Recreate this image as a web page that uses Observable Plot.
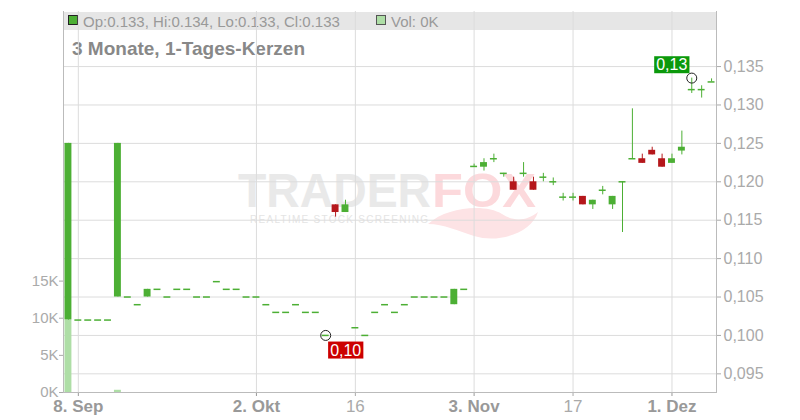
<!DOCTYPE html>
<html><head><meta charset="utf-8">
<script src="https://cdn.jsdelivr.net/npm/d3@7"></script>
<script src="https://cdn.jsdelivr.net/npm/@observablehq/plot@0.6"></script>
<style>
body{margin:0;background:#fff;font-family:"Liberation Sans",Arial,sans-serif;}
#wrap{position:relative;width:800px;height:420px;}
#bg,#chart{position:absolute;left:0;top:0;}
</style></head><body>
<div id="wrap">
<svg id="bg" width="800" height="420" font-family="Liberation Sans, Arial, sans-serif">
  <rect x="63" y="12" width="653" height="18" fill="#e6e6e6"></rect>
  <rect x="68.5" y="15.5" width="9" height="9" fill="#4caf34" stroke="#222"></rect>
  <text id="ohlc" x="83" y="26.5" font-size="15" fill="#999"></text>
  <rect x="376.5" y="15.5" width="9" height="9" fill="#aedea6" stroke="#555"></rect>
  <text id="vol" x="391" y="26.5" font-size="15" fill="#999"></text>
  <text id="subtitle" x="72" y="55" font-size="19" font-weight="bold" fill="#888"></text>
  <path d="M428,224 C448,206 486,204 502,214 C512,221 526,222 538,212 C532,232 500,244 474,236 C458,231 444,224 428,224 Z" fill="#fde3e5"></path>
  <text id="wm1" x="238" y="207" font-size="48" font-weight="bold" fill="#e9e9e9" textLength="193" lengthAdjust="spacingAndGlyphs"></text>
  <text id="wm2" x="432" y="207" font-size="48" font-weight="bold" fill="#fcd9dc" textLength="104" lengthAdjust="spacingAndGlyphs"></text>
  <text id="wm3" x="250" y="223" font-size="10" fill="#e4e4e4" textLength="178" lengthAdjust="spacing"></text>
</svg>
<div id="chart"></div>
</div>
<script>
// ---- data ----
const headerText = "Op:0.133, Hi:0.134, Lo:0.133, Cl:0.133";
const volText = "Vol: 0K";
const subtitleText = "3 Monate, 1-Tages-Kerzen";
const watermark = ["TRADER", "FOX", "REALTIME STOCK SCREENING"];

const opens  = [.102,.102,.102,.102,.102,.105,.105,.104,.105,.106,.105,.106,.106,.105,.105,.107,.106,.106,.105,.105,.104,.103,.103,.104,.103,.103,.100,.117,.116,.101,.100,.103,.104,.103,.104,.105,.105,.105,.105,.104,.106,.1220,.1219,.1230,.1211,.1200,.1211,.1200,.1206,.1200,.1180,.1180,.1181,.1170,.1189,.1170,.1200,.1230,.1230,.1241,.1230,.1224,.1240,.1320,.1320,.1330];
const highs  = [.125,.102,.102,.102,.102,.125,.105,.104,.106,.106,.105,.106,.106,.105,.105,.107,.106,.106,.105,.105,.104,.103,.103,.104,.103,.103,.100,.117,.1176,.101,.100,.103,.104,.103,.104,.105,.105,.105,.105,.106,.106,.1223,.1230,.1236,.1211,.1206,.1225,.1206,.1211,.1205,.1185,.1185,.1181,.1176,.1194,.1181,.1200,.1295,.1236,.1245,.1236,.1236,.1266,.1335,.1325,.1334];
const lows   = [.102,.102,.102,.102,.102,.105,.105,.104,.105,.106,.105,.106,.106,.105,.105,.107,.106,.106,.105,.105,.104,.103,.103,.104,.103,.103,.100,.1154,.116,.101,.100,.103,.104,.103,.104,.105,.105,.105,.105,.104,.106,.1220,.1214,.1225,.1206,.1189,.1206,.1189,.1200,.1195,.1175,.1175,.1170,.1164,.1183,.1164,.1134,.1230,.1224,.1235,.1219,.1224,.1235,.1315,.1309,.1330];
const closes = [.125,.102,.102,.102,.102,.125,.105,.104,.106,.106,.105,.106,.106,.105,.105,.107,.106,.106,.105,.105,.104,.103,.103,.104,.103,.103,.100,.116,.117,.101,.100,.103,.104,.103,.104,.105,.105,.105,.105,.106,.106,.1220,.1225,.1230,.1211,.1189,.1211,.1189,.1206,.1200,.1180,.1180,.1170,.1176,.1189,.1181,.1200,.1230,.1224,.1235,.1219,.1230,.1245,.1320,.1320,.1330];
const volumes = [9700,0,0,0,0,300,0,0,0,0,0,0,0,0,0,0,0,0,0,0,0,0,0,0,0,0,0,0,0,0,0,0,0,0,0,0,0,0,0,0,0,0,0,0,0,0,0,0,0,0,0,0,0,0,0,0,0,0,0,0,0,0,0,0,0,0];

const xTickIdx    = [1, 19, 29, 41, 51, 61];
const xTickLabels = ["8. Sep", "2. Okt", "16", "3. Nov", "17", "1. Dez"];
const xTickBold   = [true, true, false, true, false, true];
const priceTicks  = [0.095, 0.100, 0.105, 0.110, 0.115, 0.120, 0.125, 0.130, 0.135];
const volTicks    = [0, 5000, 10000, 15000];
const volLabels   = ["0K", "5K", "10K", "15K"];

const yDomain = [0.09257, 0.14217];
const volMax = 51300;

// ---- header texts ----
document.getElementById("ohlc").textContent = headerText;
document.getElementById("vol").textContent = volText;
document.getElementById("subtitle").textContent = subtitleText;
document.getElementById("wm1").textContent = watermark[0];
document.getElementById("wm2").textContent = watermark[1];
document.getElementById("wm3").textContent = watermark[2];

// ---- build ----
const rows = opens.map((o, i) => ({i, o, h: highs[i], l: lows[i], c: closes[i], v: volumes[i]}));
const GREEN = "#4caf34", RED = "#b5171b";
const col = d => d.c >= d.o ? GREEN : RED;
const volToY = v => yDomain[0] + v / volMax * (yDomain[1] - yDomain[0]);
const volMap = new Map(volTicks.map((v, k) => [volToY(v), volLabels[k]]));
const xLab = new Map(xTickIdx.map((t, k) => [t, xTickLabels[k]]));
const boldIdx = xTickIdx.filter((t, k) => xTickBold[k]);
const normIdx = xTickIdx.filter((t, k) => !xTickBold[k]);
const bodies = rows.filter(d => d.o !== d.c);
const dojis = rows.filter(d => d.o === d.c);
const lowRow = rows[d3.minIndex(rows, d => d.l)];
const highRow = rows[d3.maxIndex(rows, d => d.h)];
const fmt2 = v => v.toFixed(2).replace(".", ",");
const lowText = fmt2(lowRow.l), highText = fmt2(highRow.h);
const FONT = "Liberation Sans, Arial, sans-serif";
const NARROW = "Liberation Sans Narrow, Liberation Sans, Arial, sans-serif";

const chart = Plot.plot({
  width: 800, height: 420,
  marginTop: 11, marginBottom: 28, marginLeft: 63, marginRight: 84,
  style: {background: "transparent", fontFamily: FONT, fontSize: "16px", overflow: "visible"},
  x: {type: "band", domain: d3.range(rows.length), paddingInner: 0.3, paddingOuter: 0.15, axis: null, label: null},
  y: {domain: yDomain, axis: null, label: null},
  marks: [
    Plot.gridY(priceTicks, {stroke: "#dcdcdc", strokeOpacity: 1}),
    Plot.gridX(xTickIdx, {stroke: "#dcdcdc", strokeOpacity: 1}),
    Plot.barY(rows.filter(d => d.v > 0), {x: "i", y1: yDomain[0], y2: d => volToY(d.v), fill: "#aedea6"}),
    Plot.ruleX(rows.filter(d => d.h > d.l), {x: "i", y1: "l", y2: "h", stroke: col, strokeWidth: 1}),
    Plot.barY(bodies, {x: "i", y1: "o", y2: "c", fill: col}),
    Plot.tickY(dojis, {x: "i", y: "c", stroke: GREEN, strokeWidth: 1.5}),
    Plot.dot([lowRow], {x: "i", y: "l", r: 5, stroke: "#222", fill: "none", strokeWidth: 1}),
    Plot.dot([highRow], {x: "i", y: "h", r: 5, stroke: "#222", fill: "none", strokeWidth: 1}),
    Plot.text([lowRow], {x: "i", y: "l", text: () => lowText, dx: 20, dy: 15, fill: "white", fontSize: 16}),
    Plot.text([highRow], {x: "i", y: "h", text: () => highText, dx: -20, dy: -13, fill: "white", fontSize: 16}),
    Plot.axisY(priceTicks, {anchor: "right", tickFormat: d => d.toFixed(3).replace(".", ","), tickSize: 4, tickPadding: 3, color: "#aaa", fontSize: 16, label: null}),
    Plot.axisY(volTicks.map(volToY), {anchor: "left", tickFormat: d => volMap.get(d), tickSize: 4, tickPadding: 1, color: "#aaa", fontSize: 15, label: null}),
    Plot.axisX(boldIdx, {tickFormat: d => xLab.get(d), tickSize: 4, tickPadding: 3, color: "#999", fontSize: 17, fontWeight: "bold", fontFamily: NARROW, label: null}),
    Plot.axisX(normIdx, {tickFormat: d => xLab.get(d), tickSize: 4, tickPadding: 3, color: "#aaa", fontSize: 17, fontFamily: NARROW, label: null}),
    Plot.frame({anchor: "left", stroke: "#bbb"}),
    Plot.frame({anchor: "right", stroke: "#bbb"}),
    Plot.frame({anchor: "bottom", stroke: "#bbb"})
  ]
});
document.getElementById("chart").appendChild(chart);

// label backgrounds
[[lowText, "#cc0000"], [highText, "#0b990b"]].forEach(([label, color]) => {
  d3.select(chart).selectAll("text").filter(function() { return this.textContent === label; }).each(function() {
    const b = this.getBBox();
    const r = document.createElementNS("http://www.w3.org/2000/svg", "rect");
    r.setAttribute("x", b.x - 2);
    r.setAttribute("y", b.y);
    r.setAttribute("width", b.width + 4);
    r.setAttribute("height", b.height);
    r.setAttribute("fill", color);
    const t = this.getAttribute("transform");
    if (t) r.setAttribute("transform", t);
    this.parentNode.insertBefore(r, this);
  });
});
</script>
</body></html>
